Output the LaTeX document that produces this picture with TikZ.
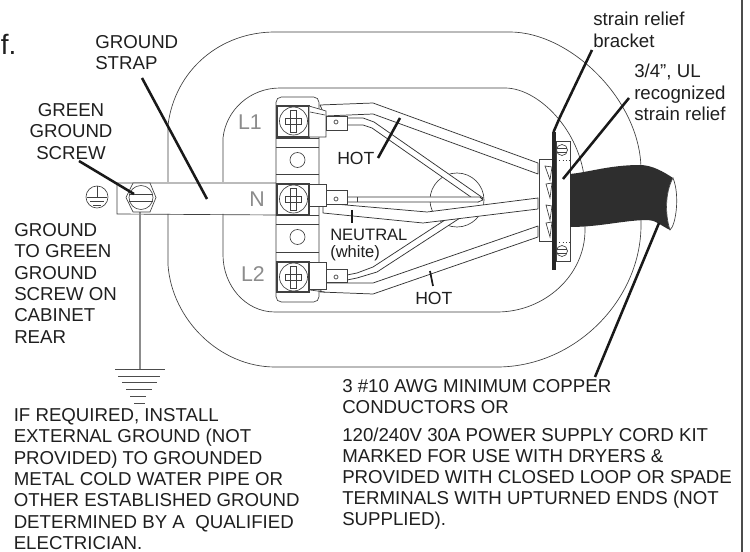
\documentclass[tikz,border=0pt]{standalone}
\usepackage{fontspec}
\setmainfont{Liberation Sans}
\tikzset{
  thin line/.style={draw=black!75,line width=0.5pt},
  wire/.style={draw=black!80,line width=0.55pt,fill=white,line join=round},
  leader/.style={draw=black!90,line width=1.9pt},
  lab/.style={font=\fontsize{13.2}{16}\selectfont,text=black!88,inner sep=0pt,align=left},
  blk/.style={font=\fontsize{14}{16}\selectfont,text=black!88,inner sep=0pt,align=left,anchor=north west},
  term/.style={font=\fontsize{16}{18}\selectfont,text=black!45,inner sep=0pt},
  gnd/.style={draw=black!70,line width=0.6pt},
}
\newcommand{\termscrew}[2]{%
  \draw[thin line,fill=white] (#1,#2) circle (14);
  \draw[thin line] (#1-3,#2-11) rectangle (#1+3,#2+11);
  \draw[thin line,fill=white] (#1-8,#2-3) rectangle (#1+8,#2+3);
  \draw[thin line] (#1-3,#2-6) -- (#1-3,#2+6) (#1+3,#2-6) -- (#1+3,#2+6);
}
\begin{document}
\begin{tikzpicture}[x=0.75pt,y=-0.75pt]
\useasboundingbox (0,0) rectangle (750,552);
\fill[white] (0,0) rectangle (750,552);
% page edge
\draw[draw=black!70,line width=1.5pt] (742,0) -- (742,552);
% stray letters at the left edge
\node[font=\fontsize{21}{24}\selectfont,text=black!88,inner sep=0pt,anchor=base west] (stray) at (0.5,55) {f.};
% outer outline
\draw[thin line] (168,182) -- (168,125) .. controls (175,70) and (220,32) .. (275,32)
  -- (510,32) .. controls (570,32) and (641,100) .. (641,170) -- (641,225)
  .. controls (641,300) and (575,367) .. (497,367) -- (275,367)
  .. controls (220,367) and (172,320) .. (168,265) -- (168,214);
% inner outline
\draw[thin line] (223,182) -- (223,138) .. controls (226,110) and (250,88) .. (280,88)
  -- (505,88) .. controls (540,88) and (585,135) .. (585,190) -- (585,230)
  .. controls (585,275) and (545,312) .. (497,312) -- (275,312)
  .. controls (245,312) and (223,285) .. (223,255) -- (223,214);
% circle under the wires
\draw[thin line] (457,200) circle (27);
% ground strap
\draw[thin line] (276,183) -- (117,183) -- (117,214) -- (276,215);
% ground wire
\draw[draw=black!45,line width=1.6pt] (140,212) -- (140,369);
% earth bars
\draw[gnd] (115,369) -- (165,369) (118,376) -- (160,376) (122,382) -- (157,382)
  (126,389) -- (152,389) (130,396.5) -- (146,396.5) (134,403) -- (145,403);
% hex screw
\draw[thin line,fill=white] (126,197.5) -- (133,183) -- (150,183) -- (156,197.5) -- (150,212) -- (133,212) -- cycle;
\draw[thin line,fill=white] (141,197.5) circle (12);
\draw[thin line] (129,194) -- (153,194) (129,201) -- (153,201);
% ground symbol
\draw[thin line] (97,197) circle (11);
\draw[thin line] (97,186) -- (97,197) (87,197) -- (107,197) (90,201.5) -- (104,201.5) (93,205) -- (101,205);
% terminal block
\draw[thin line,fill=white,rounded corners=4pt] (276,97) -- (319,97) -- (319,302) -- (276,302) -- cycle;
\draw[thin line] (276,138) -- (319,138) (276,147) -- (319,147) (276,174) -- (319,174)
  (276,252) -- (319,252) (276,224) -- (319,224) (276,215) -- (319,215);
\draw[thin line] (297.5,160) circle (7.5) (297.5,237) circle (7.5);
\draw[thin line,line width=0.8pt,fill=white] (277,106) rectangle (309,137);
\draw[thin line,line width=0.8pt,fill=white] (277,184) rectangle (309,215);
\draw[thin line,line width=0.8pt,fill=white] (277,262) rectangle (309,292);
\termscrew{293.5}{121}
\termscrew{293.5}{199}
\termscrew{293.5}{277}
% hot jackets
\draw[wire] (320,105) -- (373,103) -- (538,163) -- (538,174) -- (373,114) -- (325,116) -- cycle;
\draw[wire] (325,283) -- (373,283) -- (538,226) -- (538,237) -- (373,294) -- (320,292) -- cycle;
% inner conductors L1, L2
\draw[wire] (347,118) -- (363,118) -- (374,122) -- (483,198) -- (478,202) -- (372,128) -- (363,125) -- (347,125) -- cycle;
\draw[wire] (347,275) -- (357,273) -- (373,267) -- (445,220) -- (460,218) -- (377,272) -- (357,278) -- (347,280) -- cycle;
% neutral conductor and jacket
\draw[wire] (347,197) -- (480,197) -- (483,200) -- (478,202) -- (347,202) -- cycle;
\draw[thin line] (357,197) -- (357,202);
\draw[wire] (323,203) -- (427,212) -- (538,198) -- (538,209) -- (423,223) -- (323,213) -- cycle;
% lug boxes
\draw[thin line,fill=white] (309,106) -- (326,111) -- (326,137) -- (309,137) -- cycle;
\draw[thin line] (310,112) -- (325,115);
\draw[thin line,fill=white] (309,184) -- (326,184) -- (326,206) -- (309,206) -- cycle;
\draw[thin line,fill=white] (309,262) -- (326,262) -- (326,289) -- (309,289) -- cycle;
\draw[thin line] (310,290) -- (325,292);
\draw[thin line,fill=white] (326,116) rectangle (347,130);
\draw[thin line,fill=white] (326,190) rectangle (347,204);
\draw[thin line,fill=white] (326,269) rectangle (347,282);
\draw[thin line] (336,122) circle (2) (336,199) circle (2) (336,277) circle (2);
% connector block
\draw[thin line,fill=white] (539,159) rectangle (553,241);
\draw[thin line] (545,166) -- (552,167) -- (550,180) -- cycle
 (546,184) -- (552,183) -- (550,198) -- cycle
 (546,205) -- (552,206) -- (550,220) -- cycle
 (546,223) -- (552,222) -- (550,237) -- cycle;
% bracket plate
\draw[thin line,fill=white] (556,141) rectangle (570,261);
\draw[thin line,dotted] (556,160) -- (570,160) (556,242) -- (570,242);
\draw[thin line] (562,150) circle (5.5) (562,251) circle (5.5);
\draw[thin line] (557,148) -- (567,148) (557,152) -- (567,152) (557,249) -- (567,249) (557,253) -- (567,253);
% bracket
\fill[black!85] (551.5,132) rectangle (555.5,270);
% cord
\fill[black!82] (570,174) .. controls (590,172) and (610,165) .. (640,165)
  .. controls (652,165) and (664,172) .. (673,178)
  .. controls (665,192) and (665,215) .. (670,230)
  .. controls (660,225) and (655,220) .. (648,220)
  .. controls (625,220) and (600,227) .. (570,227) -- cycle;
\draw[thin line,fill=white] (673,178) .. controls (665,192) and (665,215) .. (670,230)
  .. controls (676,225) and (680,195) .. (673,178) -- cycle;
% leaders
\draw[leader] (553.5,132) -- (560,117) -- (592,50);
\draw[leader] (563,179) -- (629,98);
\draw[leader] (659,223) -- (595,377);
\draw[leader] (142,78) -- (207,199);
\draw[leader] (79,161) -- (134,194);
\draw[leader] (378,158) -- (400,118);
\draw[leader,line width=1.3pt] (352,210) -- (352,223);
\draw[leader,line width=1.3pt] (430,271) -- (433,286);
% labels
\node[blk] (strap) at (95,35.2) {GROUND\\STRAP};
\node[blk,align=center,anchor=north] (screw) at (71,103.2) {GREEN\\GROUND\\SCREW};
\node[blk] (cab) at (14,223.2) {GROUND\\TO GREEN\\GROUND\\SCREW ON\\CABINET\\REAR};
\node[term] (L1) at (250,122) {L1};
\node[term] (N) at (257,199) {N};
\node[term] (L2) at (253,274) {L2};
\node[lab,anchor=west] (hot1) at (337,158) {HOT};
\node[blk,font=\fontsize{12.4}{12.5}\selectfont] (neutral) at (330,229) {NEUTRAL\\(white)};
\node[lab,anchor=west] (hot2) at (415,298) {HOT};
\node[blk] (bracket) at (593,12.2) {strain relief\\bracket};
\node[blk] (relief) at (634,64.2) {3/4", UL\\recognized\\strain relief};
\node[blk] (install) at (13.5,408.2) {IF REQUIRED, INSTALL\\EXTERNAL GROUND (NOT\\PROVIDED) TO GROUNDED\\METAL COLD WATER PIPE OR\\OTHER ESTABLISHED GROUND\\DETERMINED BY A\ \ QUALIFIED\\ELECTRICIAN.};
\node[blk,font=\fontsize{14}{15.75}\selectfont] (awg) at (342,379.2) {3 \#10 AWG MINIMUM COPPER\\CONDUCTORS OR};
\node[blk,font=\fontsize{14}{15.75}\selectfont] (kit) at (342,428.2) {120/240V 30A POWER SUPPLY CORD KIT\\MARKED FOR USE WITH DRYERS \&\\PROVIDED WITH CLOSED LOOP OR SPADE\\TERMINALS WITH UPTURNED ENDS (NOT\\SUPPLIED).};
\end{tikzpicture}
\end{document}
